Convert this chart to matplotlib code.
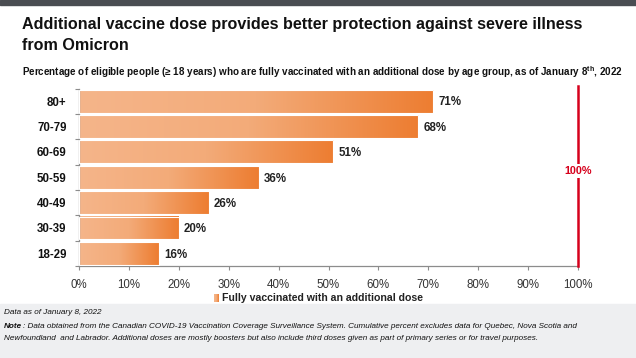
import matplotlib.pyplot as plt
import numpy as np
from matplotlib.colors import LinearSegmentedColormap
from matplotlib.patches import Rectangle

plt.rcParams['font.family'] = ['Liberation Sans', 'DejaVu Sans']
plt.rcParams['mathtext.fontset'] = 'custom'
plt.rcParams['mathtext.rm'] = 'Liberation Sans'
plt.rcParams['mathtext.bf'] = 'Liberation Sans:bold'

age_groups = ["80+", "70-79", "60-69", "50-59", "40-49", "30-39", "18-29"]
pct_boosted = [71, 68, 51, 36, 26, 20, 16]
x_ticks = list(range(0, 101, 10))
target = 100

grad = LinearSegmentedColormap.from_list("og", ["#F5B58A", "#F3AB79", "#ED7D31"])

fig = plt.figure(figsize=(6.36, 3.58), dpi=100)
fig.patch.set_facecolor("white")

# dark top strip and grey footer band
fig.patches.append(Rectangle((0, 1 - 5/358), 1, 5/358, transform=fig.transFigure,
                             color="#4A4D52", zorder=0))
fig.patches.append(Rectangle((0, 0), 1, 54/358, transform=fig.transFigure,
                             color="#EEEFF1", zorder=0))

ax = fig.add_axes([79/636, (358-266)/358, (578-79)/636, (266-88.5)/358])
ax.set_xlim(0, 100)
n = len(age_groups)
ax.set_ylim(n - 0.5, -0.5)

g = np.linspace(0, 1, 256).reshape(1, -1)
h = 0.9
for i, (lab, v) in enumerate(zip(age_groups, pct_boosted)):
    ax.imshow(g, cmap=grad, aspect="auto", extent=(0, v, i + h/2, i - h/2), zorder=2)
    ax.add_patch(Rectangle((0, i - h/2), v, h, fill=False, edgecolor="white", lw=0.8, zorder=3))
    ax.text(v + 1.0, i + 0.05, f"{v}%", va="center", ha="left", fontsize=8.3,
            fontweight="bold", color="#222222")

ax.set_yticks(range(n))
ax.set_yticklabels(age_groups, fontsize=8.3, fontweight="bold", color="#111111")
ax.set_yticks(np.arange(-0.5, n, 1), minor=True)
ax.tick_params(axis="y", which="major", length=0, pad=9)
ax.tick_params(axis="y", which="minor", length=3, color="#8C8C8C", width=0.8)
ax.set_xticks(x_ticks)
ax.set_xticklabels([f"{t}%" for t in x_ticks], fontsize=8.3, color="#333333")
ax.tick_params(axis="x", length=3, color="#8C8C8C", width=0.8, pad=6)
for s in ["top", "right"]:
    ax.spines[s].set_visible(False)
for s in ["left", "bottom"]:
    ax.spines[s].set_color("#8C8C8C")
    ax.spines[s].set_linewidth(0.9)

# 100% reference line
ax.plot([target, target], [n - 0.5, -0.6], color="#D6001C", lw=1.8, clip_on=False, zorder=4)
ax.text(target, 2.75, f"{target}%", ha="center", va="center", fontsize=7.8,
        fontweight="bold", color="#D6001C", zorder=5,
        bbox=dict(facecolor="white", edgecolor="none", pad=1.5))

# legend
lx, ly = 214/636, 1 - 302/358
lax = fig.add_axes([lx, ly, 5/636, 8/358])
lax.imshow(g, cmap=grad, aspect="auto")
lax.axis("off")
fig.text(lx + 8/636, 1 - 298/358, "Fully vaccinated with an additional dose",
         fontsize=7.6, fontweight="bold", color="#222222", va="center", ha="left")

# titles
fig.text(22/636, 1 - 25/358, "Additional vaccine dose provides better protection against severe illness",
         fontsize=11.6, fontweight="bold", color="#111111", va="center")
fig.text(22/636, 1 - 45/358, "from Omicron", fontsize=11.6, fontweight="bold",
         color="#111111", va="center")
fig.text(22/636, 1 - 72/358,
         "Percentage of eligible people (\u2265 18 years) who are fully vaccinated with an additional dose by age group, as of January 8$^{\\mathbf{th}}$, 2022",
         fontsize=7.15, fontweight="bold", color="#111111", va="center")

# footer
fs = 5.85
fig.text(4/636, 1 - 312/358, "Data as of January 8, 2022", fontsize=fs,
         style="italic", color="#111111", va="center")
note = fig.text(4/636, 1 - 326/358, "Note", fontsize=fs, style="italic", fontweight="bold",
                color="#111111", va="center")
r = fig.canvas.get_renderer()
bb = note.get_window_extent(renderer=r)
fig.text(bb.x1 / 636 + 0.5/636, 1 - 326/358,
         ": Data obtained from the Canadian COVID-19 Vaccination Coverage Surveillance System. Cumulative percent excludes data for Quebec, Nova Scotia and",
         fontsize=fs, style="italic", color="#111111", va="center")
fig.text(4/636, 1 - 339/358,
         "Newfoundland  and Labrador. Additional doses are mostly boosters but also include third doses given as part of primary series or for travel purposes.",
         fontsize=fs, style="italic", color="#111111", va="center")

fig.savefig("out.png", dpi=100)
